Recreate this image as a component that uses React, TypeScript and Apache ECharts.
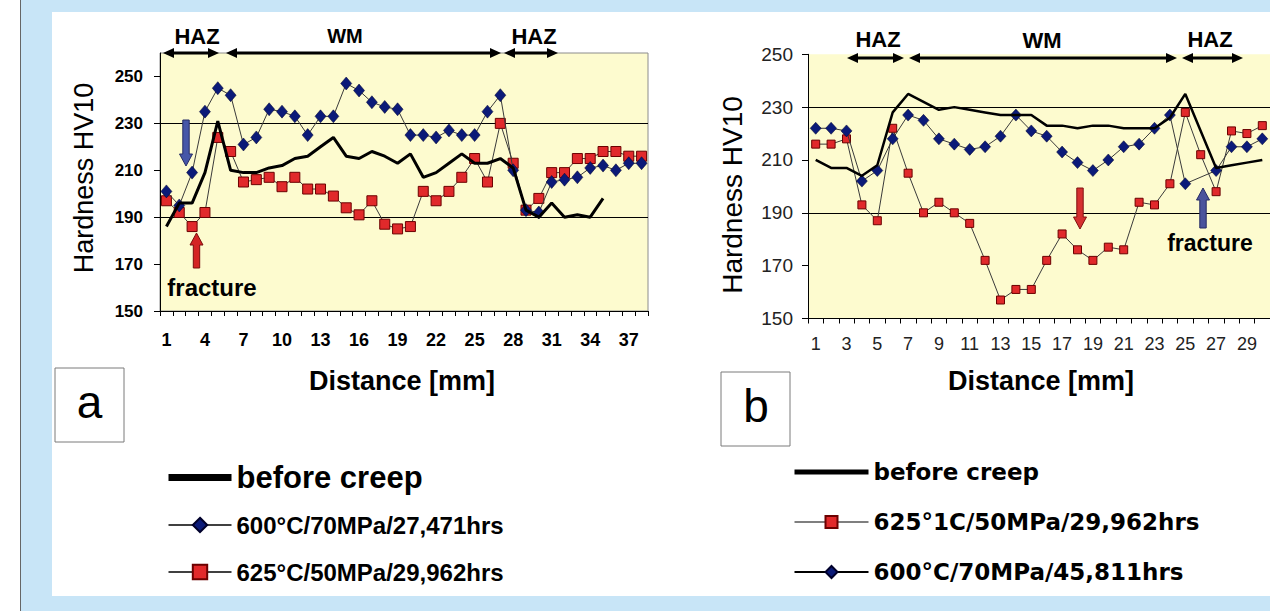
import React, { useEffect, useRef } from "react";
import * as echarts from "echarts";

// ---------- data ----------
const categoriesA = ["1","2","3","4","5","6","7","8","9","10","11","12","13","14","15","16","17","18","19","20","21","22","23","24","25","26","27","28","29","30","31","32","33","34","35","36","37","38"];
const beforeCreepA = [186,196,196,209,231,210,209,209,211,212,215,216,220,224,216,215,218,216,213,217,207,209,213,217,213,213,215,211,193,190,196,190,191,190,198,null,null,null];
const blueA = [201,195,209,235,245,242,221,224,236,235,233,225,233,233,247,244,239,237,236,225,225,224,227,225,225,235,242,210,193,192,205,206,207,211,212,210,213,213];
const redA = [197,192,186,192,224,218,205,206,207,203,207,202,202,199,194,191,197,187,185,186,201,197,201,207,215,205,230,213,193,198,209,209,215,215,218,218,216,216];

const categoriesB = ["1","2","3","4","5","6","7","8","9","10","11","12","13","14","15","16","17","18","19","20","21","22","23","24","25","26","27","28","29","30"];
const beforeCreepB = [210,207,207,204,208,228,235,232,229,230,229,228,227,227,227,223,223,222,223,223,222,222,222,226,235,221,207,208,209,210];
const redB = [216,216,218,193,187,222,205,190,194,190,186,172,157,161,161,172,182,176,172,177,176,194,193,201,228,212,198,221,220,223];
const blueB = [222,222,221,202,206,218,227,225,218,216,214,215,219,227,221,219,213,209,206,210,215,216,222,227,201,null,206,215,215,218];

const yLabelsA = [150,170,190,210,230,250];
const yLabelsB = [150,170,190,210,230,250];

const nameBefore = "before creep";
const nameBlueA = "600°C/70MPa/27,471hrs";
const nameRedA = "625°C/50MPa/29,962hrs";
const nameRedB = "625°1C/50MPa/29,962hrs";
const nameBlueB = "600°C/70MPa/45,811hrs";

// ---------- styles ----------
const SANS = "'Liberation Sans', Arial, Helvetica, sans-serif";
const DEJAVU = "'DejaVu Sans', Verdana, sans-serif";
const PLOT_BG = "#fdfbcf";

function dblArrow(x1: number, x2: number, y: number) {
  const h = 11, w = 5;
  return [
    { type: "line", z: 100, shape: { x1: x1 + h - 2, y1: y, x2: x2 - h + 2, y2: y }, style: { stroke: "#000", lineWidth: 3 } },
    { type: "polygon", z: 100, shape: { points: [[x1, y], [x1 + h, y - w], [x1 + h, y + w]] }, style: { fill: "#000" } },
    { type: "polygon", z: 100, shape: { points: [[x2, y], [x2 - h, y - w], [x2 - h, y + w]] }, style: { fill: "#000" } },
  ];
}

function blockArrow(cx: number, yTail: number, yTip: number, fill: string, stroke: string) {
  const dir = yTip > yTail ? 1 : -1;
  const headLen = 12, headHalf = 6.5, shaftHalf = 3.2;
  const yb = yTip - dir * headLen;
  return {
    type: "polygon", z: 100,
    shape: { points: [[cx - shaftHalf, yTail], [cx + shaftHalf, yTail], [cx + shaftHalf, yb], [cx + headHalf, yb], [cx, yTip], [cx - headHalf, yb], [cx - shaftHalf, yb]] },
    style: { fill, stroke, lineWidth: 1 },
  };
}

function txt(text: string, x: number, y: number, font: string, extra: any = {}) {
  return { type: "text", z: 100, x, y, ...extra, style: { text, font, fill: "#000", align: "center", verticalAlign: "middle" } };
}

function makeOption() {
  const xAxisCommon = {
    type: "category",
    boundaryGap: true,
    axisLine: { show: true, lineStyle: { color: "#000", width: 1 } },
    axisTick: { show: true, interval: 0, length: 5, lineStyle: { color: "#000" } },
    splitLine: { show: false },
  };
  const yAxisCommon = {
    type: "value",
    interval: 10,
    axisLine: { show: true, lineStyle: { color: "#000", width: 1 } },
    splitLine: { show: true, showMinLine: true, lineStyle: { color: ["#000", "rgba(0,0,0,0)"], width: 1 } },
  };
  const blueStyle = (size: number[]) => ({
    type: "line", symbol: "diamond", symbolSize: size, showAllSymbol: true,
    itemStyle: { color: "#0b1a78", borderColor: "#00002a", borderWidth: 0.5 },
    lineStyle: { color: "#3a3a3a", width: 1 },
  });
  const redStyle = (size: number) => ({
    type: "line", symbol: "rect", symbolSize: size, showAllSymbol: true,
    itemStyle: { color: "#e1292b", borderColor: "#6b0000", borderWidth: 1 },
    lineStyle: { color: "#3a3a3a", width: 1 },
  });

  const graphic: any[] = [
    // titles
    txt("Hardness HV10", 84, 178, `27px ${SANS}`, { rotation: Math.PI / 2 }),
    txt("Hardness HV10", 732, 195, `28px ${SANS}`, { rotation: Math.PI / 2 }),
    txt("Distance [mm]", 402, 381, `bold 27px ${SANS}`),
    txt("Distance [mm]", 1041, 381, `bold 27px ${SANS}`),
    // zone labels
    txt("HAZ", 197, 36, `bold 22px ${SANS}`),
    txt("WM", 345, 36, `bold 20px ${SANS}`),
    txt("HAZ", 534, 36, `bold 22px ${SANS}`),
    txt("HAZ", 878, 39, `bold 22px ${SANS}`),
    txt("WM", 1042, 40, `bold 22px ${SANS}`),
    txt("HAZ", 1210, 39, `bold 22px ${SANS}`),
    ...dblArrow(163, 219, 53),
    ...dblArrow(226, 501, 53),
    ...dblArrow(504, 558, 53),
    ...dblArrow(847, 904, 58),
    ...dblArrow(909, 1177, 58),
    ...dblArrow(1182, 1243, 58),
    // fracture annotations
    blockArrow(186, 120, 166, "#4656a8", "#262c66"),
    blockArrow(196.5, 268, 233, "#d42424", "#7a0d0d"),
    txt("fracture", 212, 287, `bold 24px ${SANS}`),
    blockArrow(1080, 188, 229, "#d63030", "#801010"),
    blockArrow(1203, 228, 188, "#4a539c", "#262b66"),
    txt("fracture", 1210, 243, `bold 23px ${SANS}`),
    // panel letters
    { type: "rect", z: 100, shape: { x: 55, y: 368, width: 69, height: 74 }, style: { fill: "#fff", stroke: "#7a7a7a", lineWidth: 1 } },
    txt("a", 89.5, 402, `46px ${SANS}`),
    { type: "rect", z: 100, shape: { x: 721, y: 372, width: 69, height: 74 }, style: { fill: "#fff", stroke: "#7a7a7a", lineWidth: 1 } },
    txt("b", 756, 406, `46px ${SANS}`),
  ];

  return {
    animation: false,
    backgroundColor: "transparent",
    grid: [
      { left: 160, top: 53, width: 488, height: 258, show: true, backgroundColor: PLOT_BG, borderColor: "#8c8c8c", borderWidth: 1, containLabel: false },
      { left: 808, top: 54.3, width: 470.4, height: 264.2, show: true, backgroundColor: PLOT_BG, borderWidth: 0, containLabel: false },
    ],
    xAxis: [
      { ...xAxisCommon, gridIndex: 0, data: categoriesA,
        axisLabel: { interval: 2, color: "#000", fontFamily: SANS, fontWeight: "bold", fontSize: 18, margin: 20 } },
      { ...xAxisCommon, gridIndex: 1, data: categoriesB,
        axisLabel: { interval: 1, color: "#222", fontFamily: SANS, fontSize: 18, margin: 16 } },
    ],
    yAxis: [
      { ...yAxisCommon, gridIndex: 0, min: 150, max: 260,
        splitLine: { show: true, showMinLine: true, showMaxLine: false, lineStyle: { color: ["#000", "rgba(0,0,0,0)"], width: 1 } },
        axisTick: { show: true, length: 6, lineStyle: { color: "#000" }, customValues: yLabelsA },
        axisLabel: { customValues: yLabelsA, color: "#000", fontFamily: SANS, fontWeight: "bold", fontSize: 17, margin: 17,
          formatter: (v: number) => (yLabelsA.indexOf(v) >= 0 ? String(v) : "") } },
      { ...yAxisCommon, gridIndex: 1, min: 150, max: 250,
        axisTick: { show: true, length: 6, lineStyle: { color: "#000" }, customValues: yLabelsB },
        axisLabel: { customValues: yLabelsB, color: "#222", fontFamily: SANS, fontSize: 19, margin: 15,
          formatter: (v: number) => (yLabelsB.indexOf(v) >= 0 ? String(v) : "") } },
    ],
    legend: [
      {
        orient: "vertical", left: 165, top: 462, padding: 0, itemWidth: 63, itemHeight: 18, itemGap: 17, selectedMode: false,
        data: [
          { name: nameBefore, itemStyle: { opacity: 0 }, lineStyle: { width: 7, color: "#000" },
            textStyle: { fontFamily: SANS, fontWeight: "bold", fontSize: 31, lineHeight: 30, color: "#000" } },
          { name: nameBlueA, lineStyle: { width: 1.5, color: "#000" },
            textStyle: { fontFamily: SANS, fontWeight: "bold", fontSize: 24, lineHeight: 30, color: "#000" } },
          { name: nameRedA, lineStyle: { width: 1.5, color: "#000" },
            textStyle: { fontFamily: SANS, fontWeight: "bold", fontSize: 24, lineHeight: 30, color: "#000" } },
        ],
      },
      {
        orient: "vertical", left: 792, top: 458, padding: 0, itemWidth: 74, itemHeight: 15, itemGap: 22, selectedMode: false,
        data: [
          { name: nameBefore, itemStyle: { opacity: 0 }, lineStyle: { width: 5, color: "#000" },
            textStyle: { fontFamily: DEJAVU, fontWeight: "bold", fontSize: 23, lineHeight: 28, color: "#000" } },
          { name: nameRedB, lineStyle: { width: 1.2, color: "#000" },
            textStyle: { fontFamily: DEJAVU, fontWeight: "bold", fontSize: 23, lineHeight: 28, color: "#000" } },
          { name: nameBlueB, lineStyle: { width: 2, color: "#000" },
            textStyle: { fontFamily: DEJAVU, fontWeight: "bold", fontSize: 23, lineHeight: 28, color: "#000" } },
        ],
      },
    ],
    series: [
      { name: nameRedA, xAxisIndex: 0, yAxisIndex: 0, data: redA, ...redStyle(10), z: 2 },
      { name: nameBlueA, xAxisIndex: 0, yAxisIndex: 0, data: blueA, ...blueStyle([11, 13]), z: 3 },
      { name: nameBefore, type: "line", xAxisIndex: 0, yAxisIndex: 0, data: beforeCreepA, symbol: "none",
        lineStyle: { color: "#000", width: 3 }, z: 4 },
      { name: nameRedB, xAxisIndex: 1, yAxisIndex: 1, data: redB, ...redStyle(8), z: 2 },
      { name: nameBlueB, xAxisIndex: 1, yAxisIndex: 1, data: blueB, ...blueStyle([11, 12]), connectNulls: true, z: 3 },
      { name: nameBefore, type: "line", xAxisIndex: 1, yAxisIndex: 1, data: beforeCreepB, symbol: "none",
        lineStyle: { color: "#000", width: 2.5 }, z: 4 },
    ],
    graphic,
  };
}

export default function App() {
  const ref = useRef<HTMLDivElement>(null);
  useEffect(() => {
    if (!ref.current) return;
    const chart = echarts.init(ref.current, null, { renderer: "svg" });
    chart.setOption(makeOption() as any);
    return () => chart.dispose();
  }, []);
  return (
    <div style={{ position: "fixed", left: 0, top: 0, width: 1270, height: 611, background: "#fff", overflow: "hidden" }}>
      <div style={{ position: "absolute", left: 21, top: 0, width: 1249, height: 611, background: "#c8e5f7" }} />
      <div style={{ position: "absolute", left: 20, top: 0, width: 1, height: 611, background: "#666" }} />
      <div style={{ position: "absolute", left: 52, top: 12, width: 1218, height: 584, background: "#fff" }} />
      <div ref={ref} style={{ position: "absolute", left: 0, top: 0, width: 1270, height: 611 }} />
    </div>
  );
}
